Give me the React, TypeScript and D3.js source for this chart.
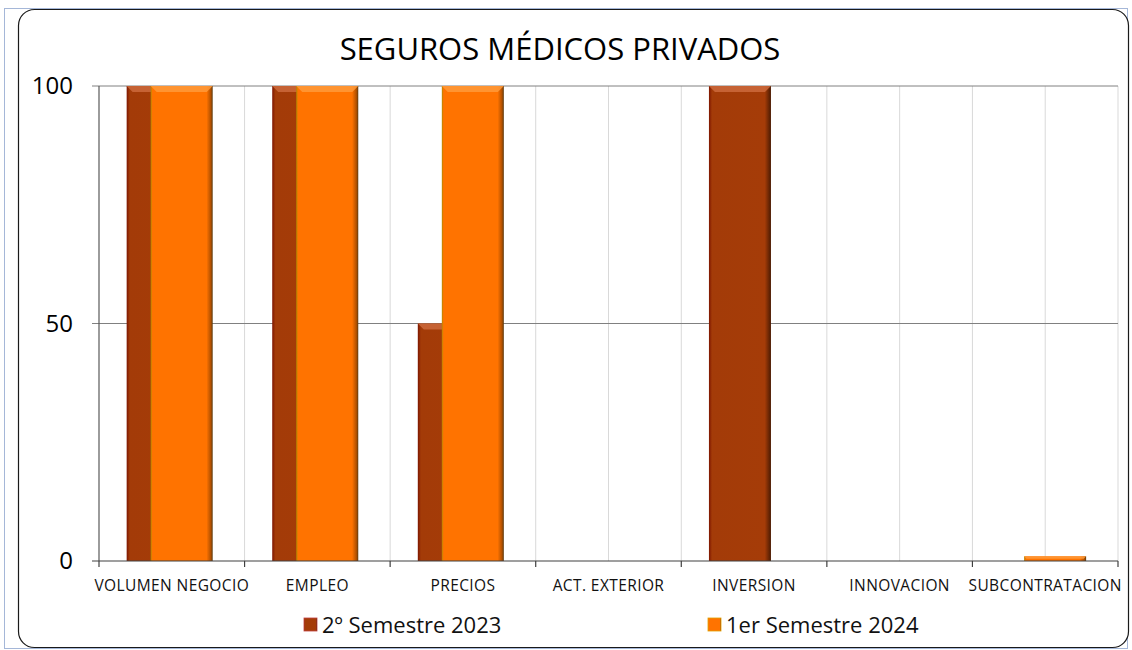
import React, { useEffect, useRef } from 'react'
import * as d3 from 'd3'

const categories = ['VOLUMEN NEGOCIO', 'EMPLEO', 'PRECIOS', 'ACT. EXTERIOR', 'INVERSION', 'INNOVACION', 'SUBCONTRATACION']
const sem2023 = [100, 100, 50, 0, 100, 0, 0]
const sem2024 = [100, 100, 100, 0, 0, 0, 1]
const yTicks = [0, 50, 100]
const seriesNames = ['2º Semestre 2023', '1er Semestre 2024']

const FONT = '"Open Sans", "Noto Sans", sans-serif'

export default function App() {
  const ref = useRef<SVGSVGElement>(null)

  useEffect(() => {
    const svg = d3.select(ref.current)
    svg.selectAll('*').remove()

    const width = 1132
    const height = 650

    // outer dotted frame + rounded chart area
    svg.append('rect')
      .attr('x', 4.5).attr('y', 8.5).attr('width', width - 9).attr('height', height - 10)
      .attr('fill', 'none').attr('stroke', '#4a6fb0').attr('stroke-width', 1).attr('stroke-dasharray', '1,1')
    svg.append('rect')
      .attr('x', 18.5).attr('y', 9.5).attr('width', 1110).attr('height', 638).attr('rx', 16)
      .attr('fill', '#fff').attr('stroke', '#1a1a1a').attr('stroke-width', 1.2)

    const defs = svg.append('defs')
    const grad = (id: string, stops: [number, string][]) => {
      const g = defs.append('linearGradient').attr('id', id).attr('x1', 0).attr('x2', 1).attr('y1', 0).attr('y2', 0)
      stops.forEach(([o, c]) => g.append('stop').attr('offset', o).attr('stop-color', c))
    }
    grad('g2023', [[0, '#7d1500'], [0.05, '#a33b08'], [0.9, '#a53c08'], [1, '#4a1a02']])
    grad('g2024', [[0, '#b08a00'], [0.03, '#ff7300'], [0.9, '#ff7300'], [0.97, '#b05000'], [1, '#5a3a10']])

    const x = d3.scaleBand().domain(categories).range([99, 1118]).padding(0)
    const y = d3.scaleLinear().domain([0, 100]).range([561, 86])
    const bw = x.bandwidth()

    // vertical light gridlines at band edges and centers
    const vlines: number[] = []
    categories.forEach((c, i) => {
      if (i > 0) vlines.push(x(c)!)
      vlines.push(x(c)! + bw / 2)
    })
    vlines.push(1118)
    svg.append('g').selectAll('line').data(vlines).join('line')
      .attr('x1', d => d).attr('x2', d => d).attr('y1', y(100)).attr('y2', y(0))
      .attr('stroke', '#d9d9d9').attr('stroke-width', 1)

    // horizontal gridlines
    svg.append('g').selectAll('line').data(yTicks.filter(t => t > 0)).join('line')
      .attr('x1', 92).attr('x2', 1118).attr('y1', d => y(d)).attr('y2', d => y(d))
      .attr('stroke', '#808080').attr('stroke-width', 1)

    // bars
    const barW = bw * 0.426
    const starts = [bw * 0.19, bw * 0.355]
    const fills = ['url(#g2023)', 'url(#g2024)']
    const tops = ['#cc6a3c', '#ff9a3a']
    ;[sem2023, sem2024].forEach((vals, s) => {
      const g = svg.append('g')
      vals.forEach((v, i) => {
        if (v <= 0) return
        const x0 = x(categories[i])! + starts[s]
        const y0 = y(v)
        const h = y(0) - y0
        g.append('rect').attr('x', x0).attr('y', y0).attr('width', barW).attr('height', h).attr('fill', fills[s])
        const bev = Math.min(6, h / 2)
        g.append('path')
          .attr('d', `M${x0},${y0}L${x0 + barW},${y0}L${x0 + barW - bev},${y0 + bev}L${x0 + bev},${y0 + bev}Z`)
          .attr('fill', tops[s]).attr('opacity', 0.85)
      })
    })

    // axes lines
    svg.append('line').attr('x1', 99).attr('x2', 99).attr('y1', y(100)).attr('y2', y(0))
      .attr('stroke', '#595959').attr('stroke-width', 1.2)
    svg.append('line').attr('x1', 92).attr('x2', 1118).attr('y1', y(0)).attr('y2', y(0))
      .attr('stroke', '#404040').attr('stroke-width', 1.2)
    const xt = categories.map(c => x(c)!).concat([1118])
    svg.append('g').selectAll('line').data(xt).join('line')
      .attr('x1', d => d).attr('x2', d => d).attr('y1', y(0)).attr('y2', y(0) + 6)
      .attr('stroke', '#404040').attr('stroke-width', 1.2)

    // y tick labels
    svg.append('g').selectAll('text').data(yTicks).join('text')
      .attr('x', 73).attr('y', d => y(d)).attr('dy', '0.35em').attr('text-anchor', 'end')
      .attr('font-family', FONT).attr('font-size', 24).attr('fill', '#000')
      .text(d => d)

    // x labels
    svg.append('g').selectAll('text').data(categories).join('text')
      .attr('x', d => x(d)! + bw / 2).attr('y', 591).attr('text-anchor', 'middle')
      .attr('font-family', FONT).attr('font-size', 15.5).attr('letter-spacing', 0.4).attr('fill', '#111')
      .text(d => d)

    // title
    svg.append('text').attr('x', 560).attr('y', 60).attr('text-anchor', 'middle')
      .attr('font-family', FONT).attr('font-size', 31).attr('fill', '#000')
      .text('SEGUROS MÉDICOS PRIVADOS')

    // legend
    const legX = [304, 708]
    seriesNames.forEach((n, i) => {
      svg.append('rect').attr('x', legX[i]).attr('y', 618).attr('width', 13).attr('height', 13)
        .attr('fill', fills[i]).attr('stroke', i === 0 ? '#c04040' : '#e0a000').attr('stroke-width', 0.8)
      svg.append('text').attr('x', legX[i] + 18).attr('y', 633)
        .attr('font-family', FONT).attr('font-size', 22).attr('fill', '#111')
        .text(n)
    })
  }, [])

  return (
    <svg ref={ref} width={1132} height={650} style={{ position: 'absolute', left: 0, top: 0, display: 'block' }} />
  )
}
